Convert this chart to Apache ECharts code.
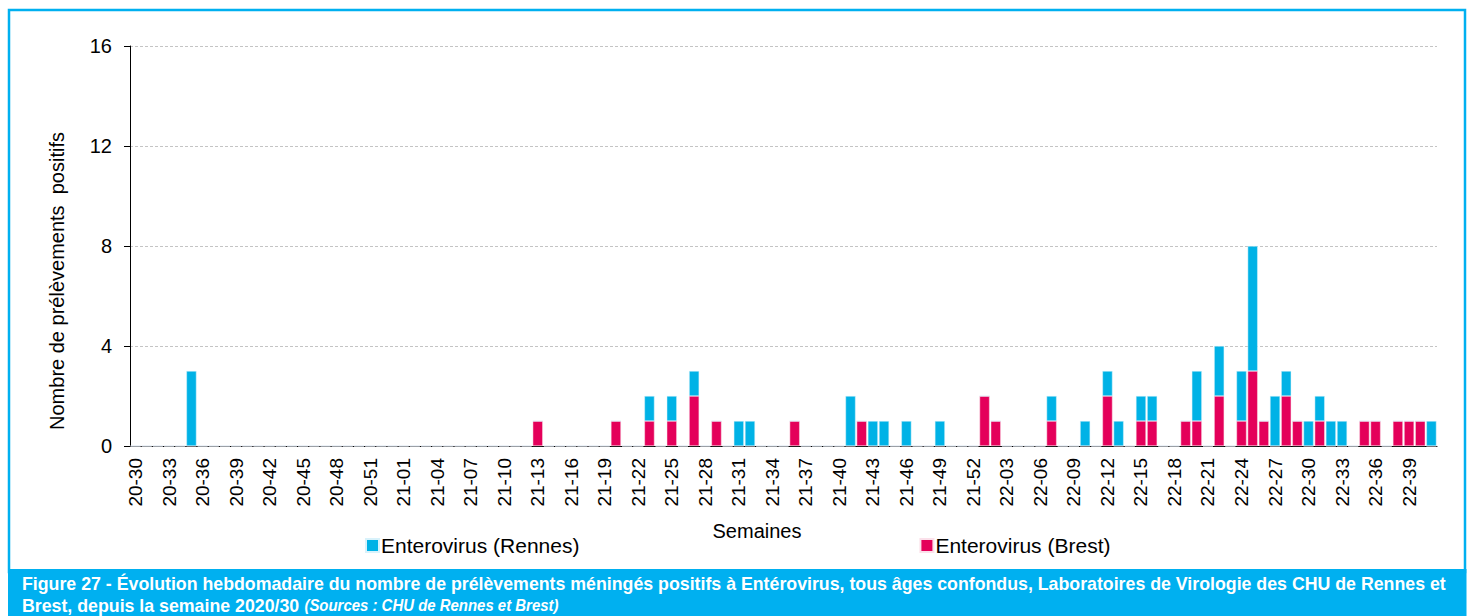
<!DOCTYPE html>
<html>
<head>
<meta charset="utf-8">
<script src="https://cdn.jsdelivr.net/npm/echarts@6/dist/echarts.min.js"></script>
<style>
  html, body { margin: 0; padding: 0; background: #fff; }
  #main { width: 1470px; height: 616px; }
</style>
</head>
<body>
<div id="main"></div>
<script>
// weeks: 2020 w30..w53, 2021 w01..w52, 2022 w01..w41
const weeks2020 = [30, 53];
const weeks2021 = [1, 52];
const weeks2022 = [1, 41];

const brest2020 = [
  0, 0, 0, 0, 0, 0, 0, 0, 0, 0,
  0, 0, 0, 0, 0, 0, 0, 0, 0, 0,
  0, 0, 0, 0
];
const rennes2020 = [
  0, 0, 0, 0, 0, 3, 0, 0, 0, 0,
  0, 0, 0, 0, 0, 0, 0, 0, 0, 0,
  0, 0, 0, 0
];
const brest2021 = [
  0, 0, 0, 0, 0, 0, 0, 0, 0, 0,
  0, 0, 1, 0, 0, 0, 0, 0, 0, 1,
  0, 0, 1, 0, 1, 0, 2, 0, 1, 0,
  0, 0, 0, 0, 0, 1, 0, 0, 0, 0,
  0, 1, 0, 0, 0, 0, 0, 0, 0, 0,
  0, 0
];
const rennes2021 = [
  0, 0, 0, 0, 0, 0, 0, 0, 0, 0,
  0, 0, 0, 0, 0, 0, 0, 0, 0, 0,
  0, 0, 1, 0, 1, 0, 1, 0, 0, 0,
  1, 1, 0, 0, 0, 0, 0, 0, 0, 0,
  2, 0, 1, 1, 0, 1, 0, 0, 1, 0,
  0, 0
];
const brest2022 = [
  2, 1, 0, 0, 0, 0, 1, 0, 0, 0,
  0, 2, 0, 0, 1, 1, 0, 0, 1, 1,
  0, 2, 0, 1, 3, 1, 0, 2, 1, 0,
  1, 0, 0, 0, 1, 1, 0, 1, 1, 1,
  0
];
const rennes2022 = [
  0, 0, 0, 0, 0, 0, 1, 0, 0, 1,
  0, 1, 1, 0, 1, 1, 0, 0, 0, 2,
  0, 2, 0, 2, 5, 0, 2, 1, 0, 1,
  1, 1, 1, 0, 0, 0, 0, 0, 0, 0,
  1
];

const yTicks = [0, 4, 8, 12, 16];

function weekLabels(yy, range) {
  const out = [];
  for (let w = range[0]; w <= range[1]; w++) {
    out.push(yy + "-" + String(w).padStart(2, "0"));
  }
  return out;
}

const categories = [
  ...weekLabels("20", weeks2020),
  ...weekLabels("21", weeks2021),
  ...weekLabels("22", weeks2022),
];
const brest = [...brest2020, ...brest2021, ...brest2022];
const rennes = [...rennes2020, ...rennes2021, ...rennes2022];

const FONT = "Liberation Sans";
const BLUE = "#00B2E6";
const RED = "#E4005A";
const FRAME = "#00B0F0";

const myChart = echarts.init(document.getElementById("main"), null, { renderer: "svg" });

const options = {
  animation: false,
  textStyle: { fontFamily: FONT },
  grid: { left: 130, right: 33, top: 46, bottom: 170 },
  legend: {
    data: ["Enterovirus (Rennes)", "Enterovirus (Brest)"],
    left: 365,
    top: 535,
    padding: 0,
    icon: "rect",
    itemWidth: 13,
    itemHeight: 13,
    itemGap: 340,
    textStyle: { fontFamily: FONT, fontSize: 21, color: "#000", padding: [0, 0, 0, -3] },
  },
  xAxis: {
    type: "category",
    data: categories,
    axisLine: { lineStyle: { color: "#000", width: 1 } },
    axisTick: { interval: 1, length: 6, lineStyle: { color: "#000" } },
    axisLabel: {
      interval: 2,
      rotate: 90,
      margin: 12,
      fontSize: 19,
      color: "#000",
      fontFamily: FONT,
    },
  },
  yAxis: {
    type: "value",
    min: yTicks[0],
    max: yTicks[yTicks.length - 1],
    interval: 4,
    axisLine: { show: true, lineStyle: { color: "#000", width: 1 } },
    axisTick: { show: true, length: 6, lineStyle: { color: "#000" } },
    axisLabel: { fontSize: 20, color: "#000", margin: 18, fontFamily: FONT },
    splitLine: { lineStyle: { color: "#c4c4c4", type: [3, 2], width: 1 } },
  },
  series: [
    {
      name: "Enterovirus (Brest)",
      type: "bar",
      stack: "total",
      data: brest,
      barCategoryGap: "10%",
      itemStyle: { color: RED, borderColor: "#fbe0ea", borderWidth: 0.5 },
    },
    {
      name: "Enterovirus (Rennes)",
      type: "bar",
      stack: "total",
      data: rennes,
      barCategoryGap: "10%",
      itemStyle: { color: BLUE, borderColor: "#d8f2fb", borderWidth: 0.5 },
    },
  ],
  graphic: [
    {
      type: "rect",
      shape: { x: 9, y: 10, width: 1456, height: 562 },
      style: { fill: "none", stroke: FRAME, lineWidth: 2.5 },
      silent: true,
    },
    {
      type: "text",
      x: 57,
      y: 281,
      rotation: Math.PI / 2,
      style: {
        text: "Nombre de prélèvements  positifs",
        fill: "#000",
        font: "20px 'Liberation Sans'",
        align: "center",
        verticalAlign: "middle",
      },
      silent: true,
    },
    {
      type: "text",
      x: 757,
      y: 531,
      style: {
        text: "Semaines",
        fill: "#000",
        font: "20px 'Liberation Sans'",
        align: "center",
        verticalAlign: "middle",
      },
      silent: true,
    },
    {
      type: "rect",
      shape: { x: 8, y: 569, width: 1458.5, height: 47 },
      style: { fill: FRAME },
      silent: true,
    },
    {
      type: "text",
      x: 22,
      y: 574,
      scaleX: 0.935,
      style: {
        text: "Figure 27 - Évolution hebdomadaire du nombre de prélèvements méningés positifs à Entérovirus, tous âges confondus, Laboratoires de Virologie des CHU de Rennes et",
        fill: "#fff",
        font: "bold 19px 'Liberation Sans'",
        verticalAlign: "top",
      },
      silent: true,
    },
    {
      type: "text",
      x: 22,
      y: 596,
      scaleX: 0.935,
      style: {
        text: "{a|Brest, depuis la semaine 2020/30 }{b|(Sources : CHU de Rennes et Brest)}",
        fill: "#fff",
        verticalAlign: "top",
        rich: {
          a: { fill: "#fff", fontSize: 19, fontWeight: "bold", fontFamily: FONT },
          b: { fill: "#fff", fontSize: 16, fontWeight: "bold", fontStyle: "italic", fontFamily: FONT },
        },
      },
      silent: true,
    },
  ],
};

myChart.setOption(options);
</script>
</body>
</html>
